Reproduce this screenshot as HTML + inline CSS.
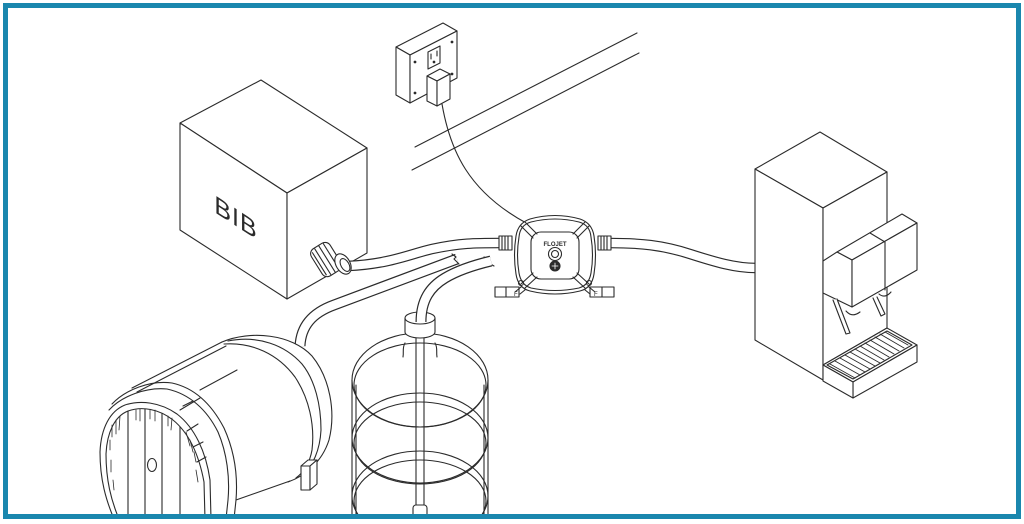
<!DOCTYPE html>
<html><head><meta charset="utf-8"><style>
html,body{margin:0;padding:0;background:#fff;}
svg{display:block;}
text{font-family:"Liberation Sans",sans-serif;}
</style></head><body>
<svg width="1024" height="524" viewBox="0 0 1024 524" xmlns="http://www.w3.org/2000/svg">
<defs>
<clipPath id="frame"><rect x="8" y="8" width="1008" height="506"/></clipPath>
<clipPath id="head"><path d="M106,519 L106,454 C107,432 115,416 128,411 C142,406 159,409 173,420 C189,433 199,455 204,482 L206,519 Z"/></clipPath>
</defs>
<rect x="0" y="0" width="1024" height="524" fill="#fff"/>
<g clip-path="url(#frame)" fill="none" stroke="#2b2b2b" stroke-width="1.1" stroke-linejoin="round" stroke-linecap="round">

<!-- ceiling lines -->
<line x1="415" y1="147" x2="637" y2="33"/>
<line x1="412" y1="170" x2="639" y2="53"/>

<!-- wall outlet -->
<polygon points="396,47 443,23 457,31 410,55" fill="#fff"/>
<polygon points="396,47 410,55 410,103 396,95" fill="#fff"/>
<polygon points="410,55 457,31 457,78 410,103" fill="#fff"/>
<polygon points="428,52 440,46 440,63 428,69"/>
<line x1="431" y1="54" x2="431" y2="59"/><line x1="437" y1="51" x2="437" y2="56"/>
<circle cx="434" cy="62" r="0.8" fill="#2b2b2b"/>
<g fill="#2b2b2b" stroke="none">
<circle cx="415" cy="62" r="1.4"/><circle cx="415" cy="93" r="1.4"/>
<circle cx="452" cy="42" r="1.4"/><circle cx="452" cy="74" r="1.4"/>
</g>
<polygon points="427,76 440,69 450,74 437,81" fill="#fff"/>
<polygon points="427,76 437,81 437,106 427,101" fill="#fff"/>
<polygon points="437,81 450,74 450,99 437,106" fill="#fff"/>
<!-- cord -->
<path d="M442,104 C450,150 468,192 528,224"/>

<!-- BIB box -->
<polygon points="261,80 180,123 287,193 367,148" fill="#fff"/>
<polygon points="180,123 287,193 287,299 180,230" fill="#fff"/>
<polygon points="287,193 367,148 367,253 287,299" fill="#fff"/>
<text x="0" y="0" transform="translate(236,226) skewY(33)" font-size="25" text-anchor="middle" letter-spacing="1" fill="#2b2b2b" stroke="none">BIB</text>

<!-- pipes (double stroke trick) -->
<g stroke-linecap="butt">
<path d="M457,259 L334,305 C312,313 301,326 300,346" stroke="#2b2b2b" stroke-width="11"/>
<path d="M457,259 L334,305 C312,313 301,326 300,346" stroke="#fff" stroke-width="8.6"/>
<path d="M348,266 C390,264 410,254 432,249 C460,243 475,243 500,243" stroke="#2b2b2b" stroke-width="10.5"/>
<path d="M348,266 C390,264 410,254 432,249 C460,243 475,243 500,243" stroke="#fff" stroke-width="8.2"/>
<path d="M609,243 C640,243 662,245 690,254 C715,262 735,268 756,268" stroke="#2b2b2b" stroke-width="10.5"/>
<path d="M609,243 C640,243 662,245 690,254 C715,262 735,268 756,268" stroke="#fff" stroke-width="8.2"/>
</g>
<path d="M452,254 L456,257 L454,259 L459,264"/>
<path d="M484,257 L489,260 L487,262 L494,266"/>

<!-- bottle -->
<g>
<ellipse cx="420" cy="380" rx="68" ry="47"/>
<ellipse cx="420" cy="385" rx="66" ry="42"/>
<ellipse cx="420" cy="438" rx="68" ry="45"/>
<ellipse cx="420" cy="443" rx="66" ry="41"/>
<ellipse cx="420" cy="496" rx="68" ry="45"/>
<ellipse cx="420" cy="501" rx="66" ry="41"/>
<line x1="352" y1="380" x2="352" y2="516"/>
<line x1="488" y1="380" x2="488" y2="516"/>
<line x1="356" y1="385" x2="356" y2="516"/>
<line x1="484" y1="385" x2="484" y2="516"/>
<path d="M405,343 C402,348 404,352 403,357"/>
<path d="M435,343 C438,348 436,352 437,357"/>
<line x1="416" y1="334" x2="416" y2="508"/>
<line x1="424" y1="334" x2="424" y2="508"/>
<rect x="413" y="505" width="14" height="12" rx="3" fill="#fff"/>
</g>
<path d="M405,318 L405,332 A15,6 0 0 0 435,332 L435,318" fill="#fff"/>
<ellipse cx="420" cy="318" rx="15" ry="6" fill="#fff"/>
<g stroke-linecap="butt">
<path d="M491,261 C470,266 455,272 445,278 C430,287 421,300 421,322" stroke="#2b2b2b" stroke-width="11"/>
<path d="M491,261 C470,266 455,272 445,278 C430,287 421,300 421,322" stroke="#fff" stroke-width="8.6"/>
</g>

<!-- BIB nut -->
<g transform="rotate(-32 327 259)">
<rect x="315" y="243" width="22" height="32" rx="6" fill="#fff"/>
<line x1="318" y1="246" x2="318" y2="272"/>
<line x1="322" y1="244" x2="322" y2="274"/>
<line x1="327" y1="243" x2="327" y2="275"/>
<line x1="332" y1="244" x2="332" y2="274"/>
</g>
<ellipse cx="343" cy="264" rx="7" ry="11" transform="rotate(-30 343 264)" fill="#fff"/>
<ellipse cx="345" cy="265" rx="4" ry="7" transform="rotate(-30 345 265)"/>

<!-- barrel -->
<path d="M100,519 L100,452 C101,428 112,410 132,397 L222,342 C250,330 292,334 312,356 C330,378 336,412 329,440 C322,462 305,476 288,482 L240,503 L232,519 Z" fill="#fff" stroke="none"/>
<path d="M222,342 C250,330 292,334 312,356 C330,378 336,412 329,440 C322,462 305,476 288,482"/>
<path d="M224,344 C252,342 278,354 295,377 C309,398 315,425 312,450 C310,462 304,472 296,478"/>
<path d="M228,341 C258,335 285,345 302,364 C315,380 321,405 321,430 C320,450 313,466 302,476"/>
<line x1="132" y1="388" x2="222" y2="342"/>
<line x1="137" y1="392" x2="226" y2="346"/>
<path d="M290,481 C270,488 250,495 236,500"/>
<path d="M112,404 C125,390 150,380 172,383 C195,388 212,405 224,428 C234,450 238,475 236,500 L234,519"/>
<path d="M109,410 C122,396 146,387 167,389 C190,394 207,410 218,432 C227,453 230,478 228,500 L226,519"/>
<!-- head rim -->
<path d="M114,519 C106,500 100,480 100,452 C101,428 110,411 125,405 C140,400 160,402 177,414 C195,428 206,452 210,480 L211,519" fill="#fff"/>
<path d="M119,519 C111,500 106,480 106,454 C107,432 115,416 128,411 C142,406 159,409 173,420 C189,433 199,455 204,482 L205,519"/>
<g clip-path="url(#head)">
<line x1="128" y1="405" x2="128" y2="517"/>
<line x1="145" y1="405" x2="145" y2="517"/>
<line x1="162" y1="405" x2="162" y2="517"/>
<line x1="180" y1="405" x2="180" y2="517"/>
</g>
<ellipse cx="152" cy="465" rx="4.5" ry="6.5"/>
<g stroke-width="0.8">
<path d="M112,425 l0,12 M116,420 l0,14 M120,416 l-1,14 M110,440 l0,10 M111,460 l0,12 M113,480 l1,10"/>
<path d="M136,410 l0,10 M140,409 l0,12 M150,410 l0,9 M155,410 l0,11 M168,416 l0,10 M172,418 l-1,12"/>
<path d="M186,432 l4,14 M190,440 l3,12 M194,452 l2,10 M196,470 l2,12"/>
</g>
<line x1="200" y1="390" x2="237" y2="370"/>
<line x1="180" y1="410" x2="200" y2="398"/>
<line x1="183" y1="406" x2="193" y2="401"/>
<line x1="187" y1="431" x2="198" y2="424"/>
<line x1="193" y1="447" x2="203" y2="442"/>
<line x1="197" y1="462" x2="206" y2="457"/>
<polygon points="301,466 308,460 317,460 310,466" fill="#fff"/>
<polygon points="301,466 310,466 310,490 301,490" fill="#fff"/>
<polygon points="310,466 317,460 317,484 310,490" fill="#fff"/>

<!-- pump -->
<g>
<rect x="499" y="236" width="13" height="14" fill="#fff"/>
<line x1="502" y1="236" x2="502" y2="250"/><line x1="505" y1="236" x2="505" y2="250"/><line x1="508" y1="236" x2="508" y2="250"/>
<rect x="598" y="236" width="13" height="14" fill="#fff"/>
<line x1="601" y1="236" x2="601" y2="250"/><line x1="604" y1="236" x2="604" y2="250"/><line x1="607" y1="236" x2="607" y2="250"/>
<rect x="495" y="287" width="24" height="10" fill="#fff"/>
<line x1="506" y1="287" x2="506" y2="297"/>
<rect x="590" y="287" width="24" height="10" fill="#fff"/>
<line x1="602" y1="287" x2="602" y2="297"/>
<path d="M527,282 L515,292 M531,285 L520,294"/>
<path d="M583,282 L595,292 M579,285 L590,294"/>
<path d="M530,219 Q555,212 580,219 Q592,223 594,236 Q597,255 594,274 Q592,288 580,291 Q555,297 530,291 Q518,288 516,274 Q513,255 516,236 Q518,223 530,219 Z" fill="#fff"/>
<path d="M531,222 Q555,216 579,222 Q590,225 591,237 Q594,255 591,273 Q589,285 579,288 Q555,293 531,288 Q521,285 519,273 Q516,255 519,237 Q520,225 531,222 Z"/>
<rect x="531" y="232" width="48" height="47" rx="10"/>
<path d="M521,226 L533,238 M525,222 L537,234"/>
<path d="M589,226 L577,238 M585,222 L573,234"/>
<path d="M521,284 L533,273 M525,288 L537,277"/>
<path d="M589,284 L577,273 M585,288 L573,277"/>
<text x="555" y="246" font-size="6" font-weight="bold" text-anchor="middle" fill="#2b2b2b" stroke="none">FLOJET</text>
<circle cx="555" cy="254" r="6.5"/>
<circle cx="555" cy="254" r="3.5"/>
<circle cx="555" cy="266" r="5" fill="#2b2b2b"/>
<path d="M552,266 L558,266 M555,263 L555,269" stroke="#fff" stroke-width="0.8"/>
<circle cx="521" cy="283" r="2.5"/>
<circle cx="589" cy="283" r="2.5"/>
<text x="514" y="296" font-size="6" fill="#2b2b2b" stroke="none">F</text>
<text x="594" y="296" font-size="6" fill="#2b2b2b" stroke="none">F</text>
</g>

<!-- dispenser -->
<polygon points="820,132 755,169 823,208 887,172" fill="#fff"/>
<polygon points="755,169 823,208 823,380 755,340" fill="#fff"/>
<polygon points="823,208 887,172 887,328 823,365" fill="#fff"/>
<polygon points="837,252 902,214 917,223 852,260" fill="#fff"/>
<polygon points="823,261 837,252 852,260 852,307 823,293" fill="#fff"/>
<polygon points="852,260 917,223 917,270 852,307" fill="#fff"/>
<path d="M870,233 L885,242 L885,290"/>
<path d="M833,300 L846,334 L850,333 L837,299" fill="#fff"/>
<path d="M846,311 Q852,318 860,312"/>
<path d="M873,298 L881,316 L885,314 L877,297" fill="#fff"/>
<path d="M879,294 Q885,299 891,292"/>
<polygon points="823,365 887,328 917,345 853,382" fill="#fff"/>
<polygon points="853,382 917,345 917,362 853,398" fill="#fff"/>
<polygon points="823,365 853,382 853,398 823,381" fill="#fff"/>
<polygon points="827,365 887,331 912,345 853,379"/>
<g stroke-width="0.9">
<line x1="830" y1="364" x2="855" y2="378"/>
<line x1="835" y1="361" x2="860" y2="375"/>
<line x1="840" y1="358" x2="865" y2="372"/>
<line x1="845" y1="355" x2="870" y2="369"/>
<line x1="850" y1="352" x2="875" y2="366"/>
<line x1="855" y1="349" x2="880" y2="363"/>
<line x1="860" y1="346" x2="884" y2="360"/>
<line x1="865" y1="343" x2="889" y2="357"/>
<line x1="870" y1="340" x2="894" y2="354"/>
<line x1="875" y1="337" x2="899" y2="351"/>
<line x1="880" y1="334" x2="904" y2="348"/>
<line x1="885" y1="332" x2="908" y2="345"/>
</g>
</g>

<rect x="5.5" y="5.5" width="1013" height="511" fill="none" stroke="#1a87ae" stroke-width="5"/>
</svg>
</body></html>
